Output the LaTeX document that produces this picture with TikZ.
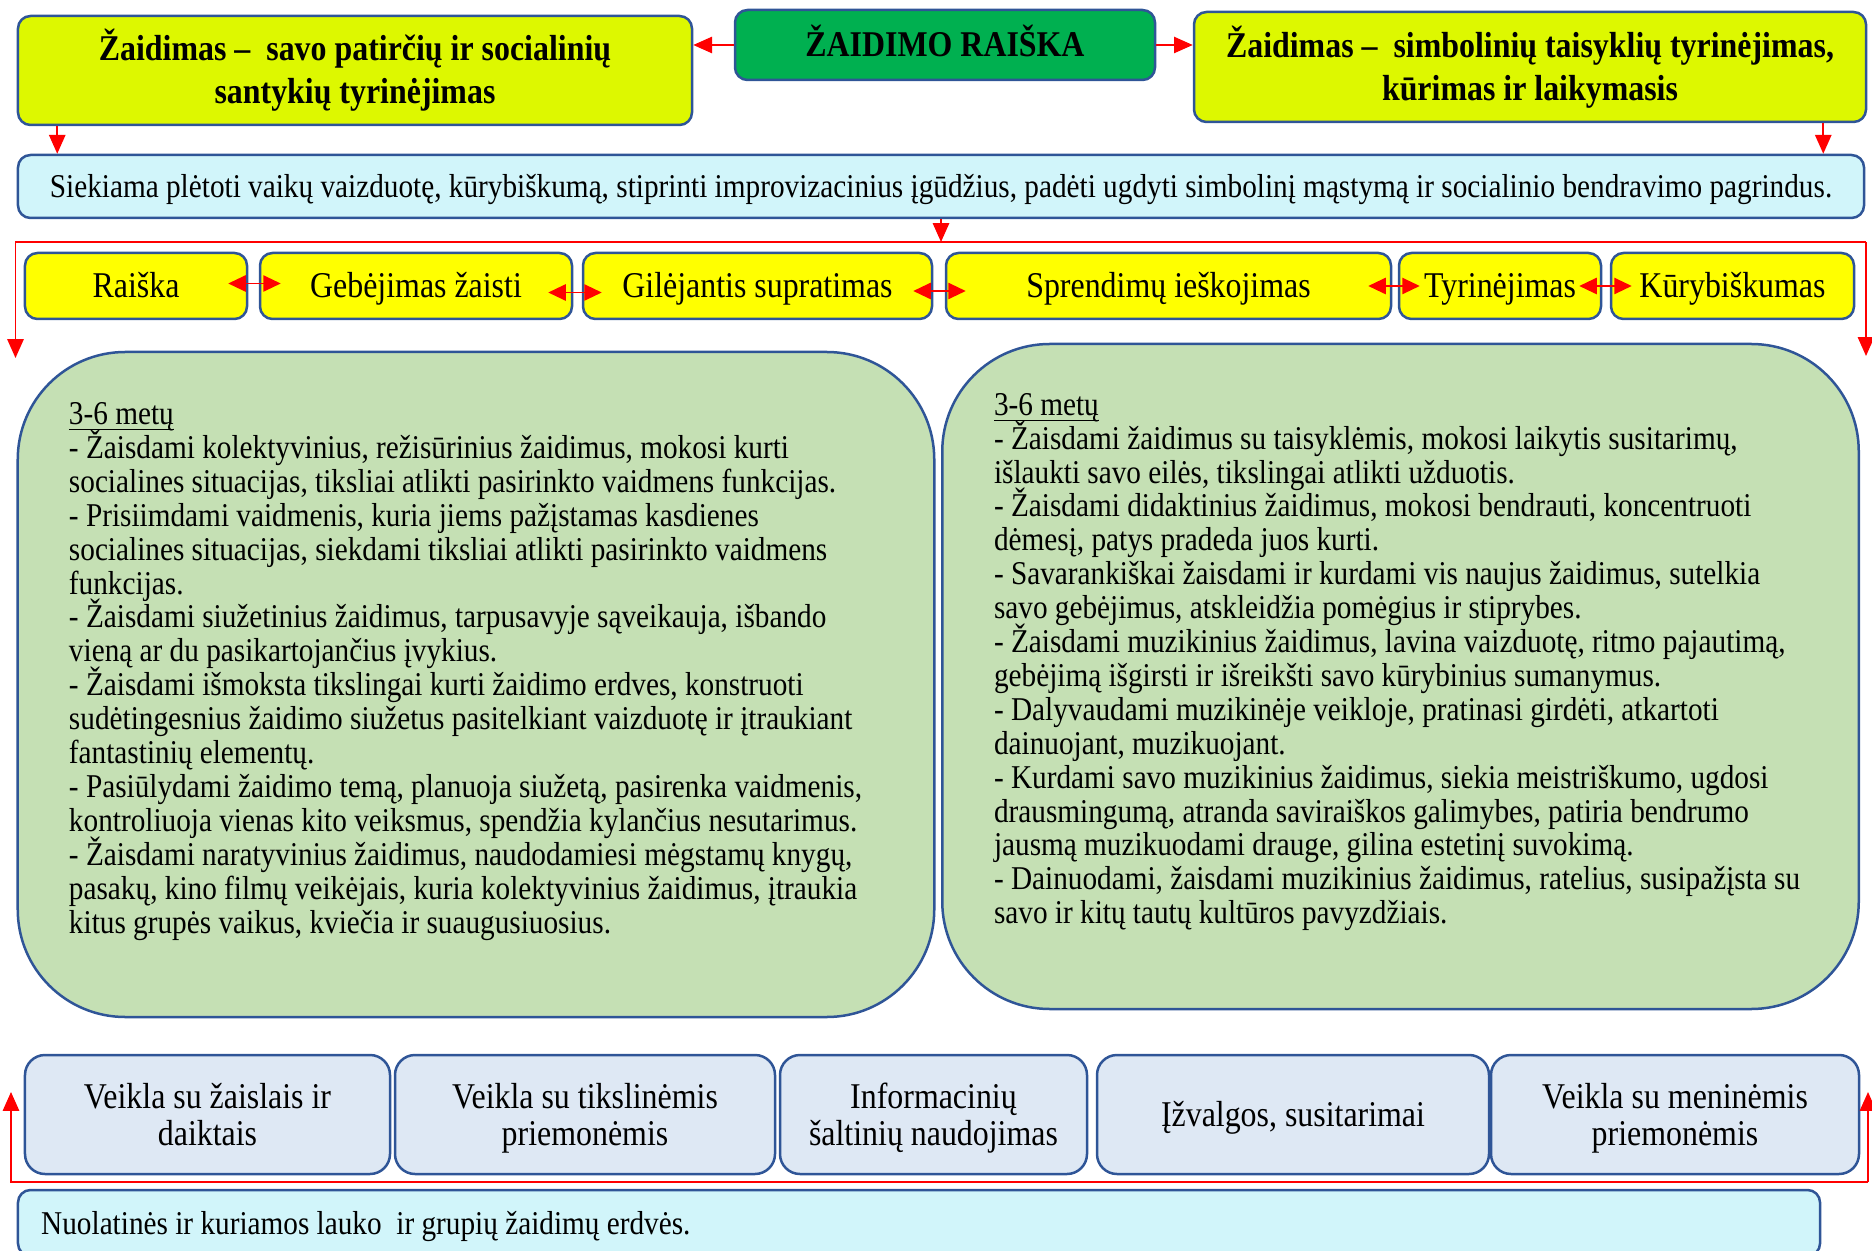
\documentclass[tikz,border=0pt]{standalone}
\usepackage{amsmath}
\usepackage{fontspec}
\setmainfont{Liberation Serif}[FakeStretch=0.88]
\usepackage{xcolor}
\usetikzlibrary{arrows.meta,positioning}
\definecolor{edgeblue}{RGB}{47,85,151}
\definecolor{limefill}{RGB}{221,248,0}
\definecolor{headgreen}{RGB}{0,176,80}
\definecolor{aimcyan}{RGB}{209,245,250}
\definecolor{skillyellow}{RGB}{255,255,0}
\definecolor{agegreen}{RGB}{197,224,180}
\definecolor{actblue}{RGB}{222,232,244}
\setlength{\lineskiplimit}{-20pt}

\begin{document}
\begin{tikzpicture}[x=0.4pt,y=-0.4pt,
  box/.style={draw=edgeblue,line width=1pt,rounded corners=5pt,align=center,inner sep=0pt},
  headbox/.style={box,fill=limefill,font=\fontsize{14.5}{17.2}\selectfont\bfseries},
  aimbox/.style={box,fill=aimcyan,font=\fontsize{13.3}{13.6}\selectfont},
  skillbox/.style={box,fill=skillyellow,minimum height=26.4pt,text height=9.6pt,text depth=0pt,font=\fontsize{14.5}{16}\selectfont},
  agebox/.style={box,fill=agegreen,rounded corners=43pt,minimum width=366.6pt,minimum height=266pt},
  agetext/.style={inner sep=0pt,align=left,font=\fontsize{13.3}{13.56}\selectfont},
  actbox/.style={box,fill=actblue,rounded corners=8pt,minimum height=47.6pt,text depth=0pt,font=\fontsize{14.5}{14.8}\selectfont},
  redarr/.style={draw=red,line width=0.7pt,-{Triangle[width=6.5pt,length=7.5pt]}},
  twoarr/.style={draw=red,line width=0.7pt,{Triangle[width=6.5pt,length=7pt]}-{Triangle[width=6.5pt,length=7pt]}}]
\useasboundingbox (0,0) rectangle (1872,1251);
%% top row
\node[box,fill=headgreen,minimum width=168pt,minimum height=28pt,text height=9.6pt,text depth=0pt,font=\fontsize{14.5}{16.2}\selectfont\bfseries] (raiska) at (945,45) {ŽAIDIMO RAIŠKA};
\node[headbox,minimum width=269.6pt,minimum height=43.6pt] (ltop) at (355,70.5) {Žaidimas –~ savo patirčių ir socialinių\\santykių tyrinėjimas};
\node[headbox,minimum width=268.8pt,minimum height=44pt] (rtop) at (1530,67) {Žaidimas –~ simbolinių taisyklių tyrinėjimas,\\kūrimas ir laikymasis};
\node[aimbox,minimum width=738.4pt,minimum height=25.2pt,text height=8.8pt,text depth=0pt] (aim) at (941,186.5) {Siekiama plėtoti vaikų vaizduotę, kūrybiškumą, stiprinti improvizacinius įgūdžius, padėti ugdyti simbolinį mąstymą ir socialinio bendravimo pagrindus.};
\draw[redarr] (raiska.west) -- (raiska.west -| ltop.east); % to left
\draw[redarr] (raiska.east) -- (raiska.east -| rtop.west); % to right
\draw[redarr] ([xshift=16.2pt]ltop.south west) -- ([xshift=16.2pt]ltop.south west |- aim.north);
\draw[redarr] ([xshift=-17.6pt]rtop.south east) -- ([xshift=-17.6pt]rtop.south east |- aim.north);
%% skills row
\node[skillbox,minimum width=88.8pt] (s1) at (136,286) {Raiška};
\node[skillbox,minimum width=124.8pt] (s2) at (416,286) {Gebėjimas žaisti};
\node[skillbox,minimum width=139.6pt] (s3) at (757.5,286) {Gilėjantis supratimas};
\node[skillbox,minimum width=178pt] (s4) at (1168.5,286) {Sprendimų ieškojimas};
\node[skillbox,minimum width=80.8pt] (s5) at (1500,286) {Tyrinėjimas};
\node[skillbox,minimum width=97.2pt] (s6) at (1732.5,286) {Kūrybiškumas};
\draw[twoarr] ([xshift=-8pt,yshift=1pt]s1.east) -- ([xshift=8.8pt,yshift=1pt]s2.west);
\draw[twoarr] ([xshift=-10pt,yshift=-2.6pt]s2.east) -- ([xshift=8pt,yshift=-2.6pt]s3.west);
\draw[twoarr] ([xshift=-8pt,yshift=-2pt]s3.east) -- ([xshift=8.4pt,yshift=-2pt]s4.west);
\draw[twoarr] ([xshift=-9.6pt]s4.east) -- ([xshift=8.8pt]s5.west);
\draw[twoarr] ([xshift=-9.2pt]s5.east) -- ([xshift=8.8pt]s6.west);
%% red frame under the aim
\coordinate (tl) at (15.5,242);
\coordinate (tr) at (1866,242);
\coordinate (tlend) at (15.5,358);
\coordinate (trend) at (1866,356);
\draw[redarr] (aim.south) -- (aim.south |- tl);
\draw[redarr] (tr) -- (tl) -- (tlend);
\draw[redarr] (tr) -- (trend);
%% age boxes
\node[agebox] (lage) at (476,684.5) {};
\node[agebox] (rage) at (1400.5,676.5) {};
\node[agetext,below right=20.5pt and 20.8pt of lage.north west] (ltext) {\underline{\smash[b]{3-6 metų}}\\
- Žaisdami kolektyvinius, režisūrinius žaidimus, mokosi kurti\\
socialines situacijas, tiksliai atlikti pasirinkto vaidmens funkcijas.\\
- Prisiimdami vaidmenis, kuria jiems pažįstamas kasdienes\\
socialines situacijas, siekdami tiksliai atlikti pasirinkto vaidmens\\
funkcijas.\\
- Žaisdami siužetinius žaidimus, tarpusavyje sąveikauja, išbando\\
vieną ar du pasikartojančius įvykius.\\
- Žaisdami išmoksta tikslingai kurti žaidimo erdves, konstruoti\\
sudėtingesnius žaidimo siužetus pasitelkiant vaizduotę ir įtraukiant\\
fantastinių elementų.\\
- Pasiūlydami žaidimo temą, planuoja siužetą, pasirenka vaidmenis,\\
kontroliuoja vienas kito veiksmus, spendžia kylančius nesutarimus.\\
- Žaisdami naratyvinius žaidimus, naudodamiesi mėgstamų knygų,\\
pasakų, kino filmų veikėjais, kuria kolektyvinius žaidimus, įtraukia\\
kitus grupės vaikus, kviečia ir suaugusiuosius.};
\node[agetext,below right=20pt and 21pt of rage.north west] (rtext) {\underline{\smash[b]{3-6 metų}}\\
- Žaisdami žaidimus su taisyklėmis, mokosi laikytis susitarimų,\\
išlaukti savo eilės, tikslingai atlikti užduotis.\\
- Žaisdami didaktinius žaidimus, mokosi bendrauti, koncentruoti\\
dėmesį, patys pradeda juos kurti.\\
- Savarankiškai žaisdami ir kurdami vis naujus žaidimus, sutelkia\\
savo gebėjimus, atskleidžia pomėgius ir stiprybes.\\
- Žaisdami muzikinius žaidimus, lavina vaizduotę, ritmo pajautimą,\\
gebėjimą išgirsti ir išreikšti savo kūrybinius sumanymus.\\
- Dalyvaudami muzikinėje veikloje, pratinasi girdėti, atkartoti\\
dainuojant, muzikuojant.\\
- Kurdami savo muzikinius žaidimus, siekia meistriškumo, ugdosi\\
drausmingumą, atranda saviraiškos galimybes, patiria bendrumo\\
jausmą muzikuodami drauge, gilina estetinį suvokimą.\\
- Dainuodami, žaisdami muzikinius žaidimus, ratelius, susipažįsta su\\
savo ir kitų tautų kultūros pavyzdžiais.};
%% activity row
\node[actbox,minimum width=146pt] (a1) at (207.5,1114.5) {Veikla su žaislais ir\\daiktais};
\node[actbox,minimum width=152pt] (a2) at (585,1114.5) {Veikla su tikslinėmis\\priemonėmis};
\node[actbox,minimum width=122.8pt] (a3) at (933.5,1114.5) {Informacinių\\šaltinių naudojimas};
\node[actbox,minimum width=156.8pt,text height=9.6pt] (a4) at (1293,1114.5) {Įžvalgos, susitarimai};
\node[actbox,minimum width=147.2pt] (a5) at (1675,1114.5) {Veikla su meninėmis\\priemonėmis};
\node[aimbox,minimum width=720.8pt,minimum height=26.4pt] (space) at (919,1223) {};
\node[inner sep=0pt,text height=8.8pt,text depth=0pt,font=\fontsize{13.3}{13.6}\selectfont,right=9.6pt of space.west] (spacetext) {Nuolatinės ir kuriamos lauko~ ir grupių žaidimų erdvės.};
%% red frame over the spaces
\coordinate (bl) at (11,1182);
\coordinate (br) at (1868,1182);
\coordinate (blend) at (11,1092);
\coordinate (brend) at (1868,1092);
\draw[redarr] (br) -- (bl) -- (blend);
\draw[redarr] (br) -- (brend);
\end{tikzpicture}
\end{document}
